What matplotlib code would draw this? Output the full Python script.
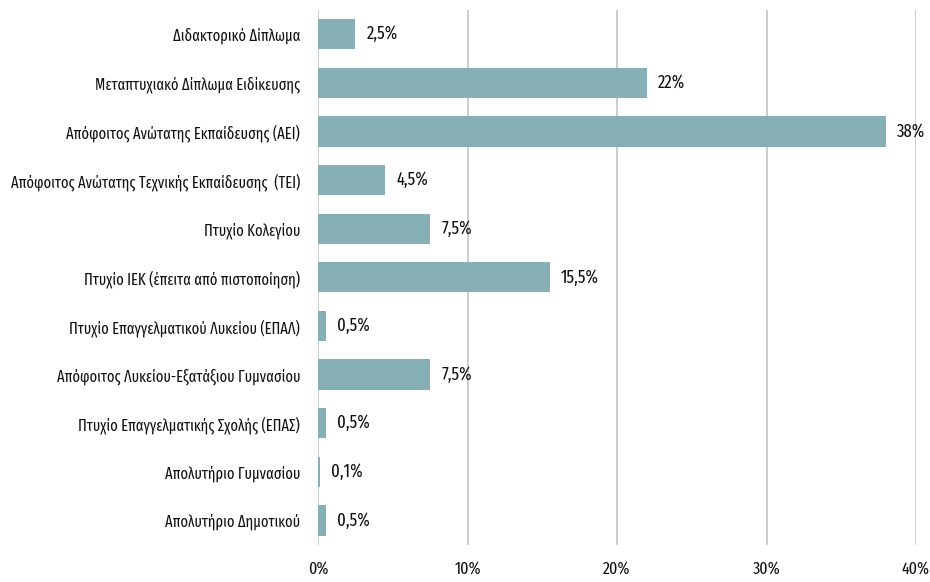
import matplotlib
matplotlib.use("Agg")
import matplotlib.pyplot as plt

categories = [
    "Διδακτορικό Δίπλωμα",
    "Μεταπτυχιακό Δίπλωμα Ειδίκευσης",
    "Απόφοιτος Ανώτατης Εκπαίδευσης (ΑΕΙ)",
    "Απόφοιτος Ανώτατης Τεχνικής Εκπαίδευσης  (ΤΕΙ)",
    "Πτυχίο Κολεγίου",
    "Πτυχίο ΙΕΚ (έπειτα από πιστοποίηση)",
    "Πτυχίο Επαγγελματικού Λυκείου (ΕΠΑΛ)",
    "Απόφοιτος Λυκείου-Εξατάξιου Γυμνασίου",
    "Πτυχίο Επαγγελματικής Σχολής (ΕΠΑΣ)",
    "Απολυτήριο Γυμνασίου",
    "Απολυτήριο Δημοτικού",
]
values = [2.5, 22, 38, 4.5, 7.5, 15.5, 0.5, 7.5, 0.5, 0.1, 0.5]
value_labels = ["2,5%", "22%", "38%", "4,5%", "7,5%", "15,5%",
                "0,5%", "7,5%", "0,5%", "0,1%", "0,5%"]
xticks = [0, 10, 20, 30, 40]
xtick_labels = ["0%", "10%", "20%", "30%", "40%"]

plt.rcParams["font.family"] = ["Fira Sans Extra Condensed", "DejaVu Sans"]

BAR = "#87afb6"
GRID = "#c4c4c4"
TEXT = "#111111"

fig = plt.figure(figsize=(9.3, 5.82), dpi=100)
ax = fig.add_axes([0.342, 0.064, 0.643, 0.919])

y = list(range(len(categories)))
ax.barh(y, values, height=0.62, color=BAR, zorder=2)
for yi, v, lab in zip(y, values, value_labels):
    ax.text(v + 0.75, yi, lab, va="center", ha="left", fontsize=13,
            color=TEXT, zorder=3)

ax.set_xlim(0, 40)
ax.set_ylim(len(categories) - 0.5, -0.5)
ax.set_yticks(y)
ax.set_yticklabels(categories, fontsize=11.3, color=TEXT)
ax.set_xticks(xticks)
ax.set_xticklabels(xtick_labels, fontsize=12.5, color=TEXT)
ax.tick_params(axis="both", length=0)
ax.tick_params(axis="y", pad=13)
ax.tick_params(axis="x", pad=12)
ax.xaxis.grid(True, color=GRID, linewidth=1.2, zorder=0)
ax.set_axisbelow(True)
for s in ax.spines.values():
    s.set_visible(False)

fig.savefig("out.png", dpi=100)
